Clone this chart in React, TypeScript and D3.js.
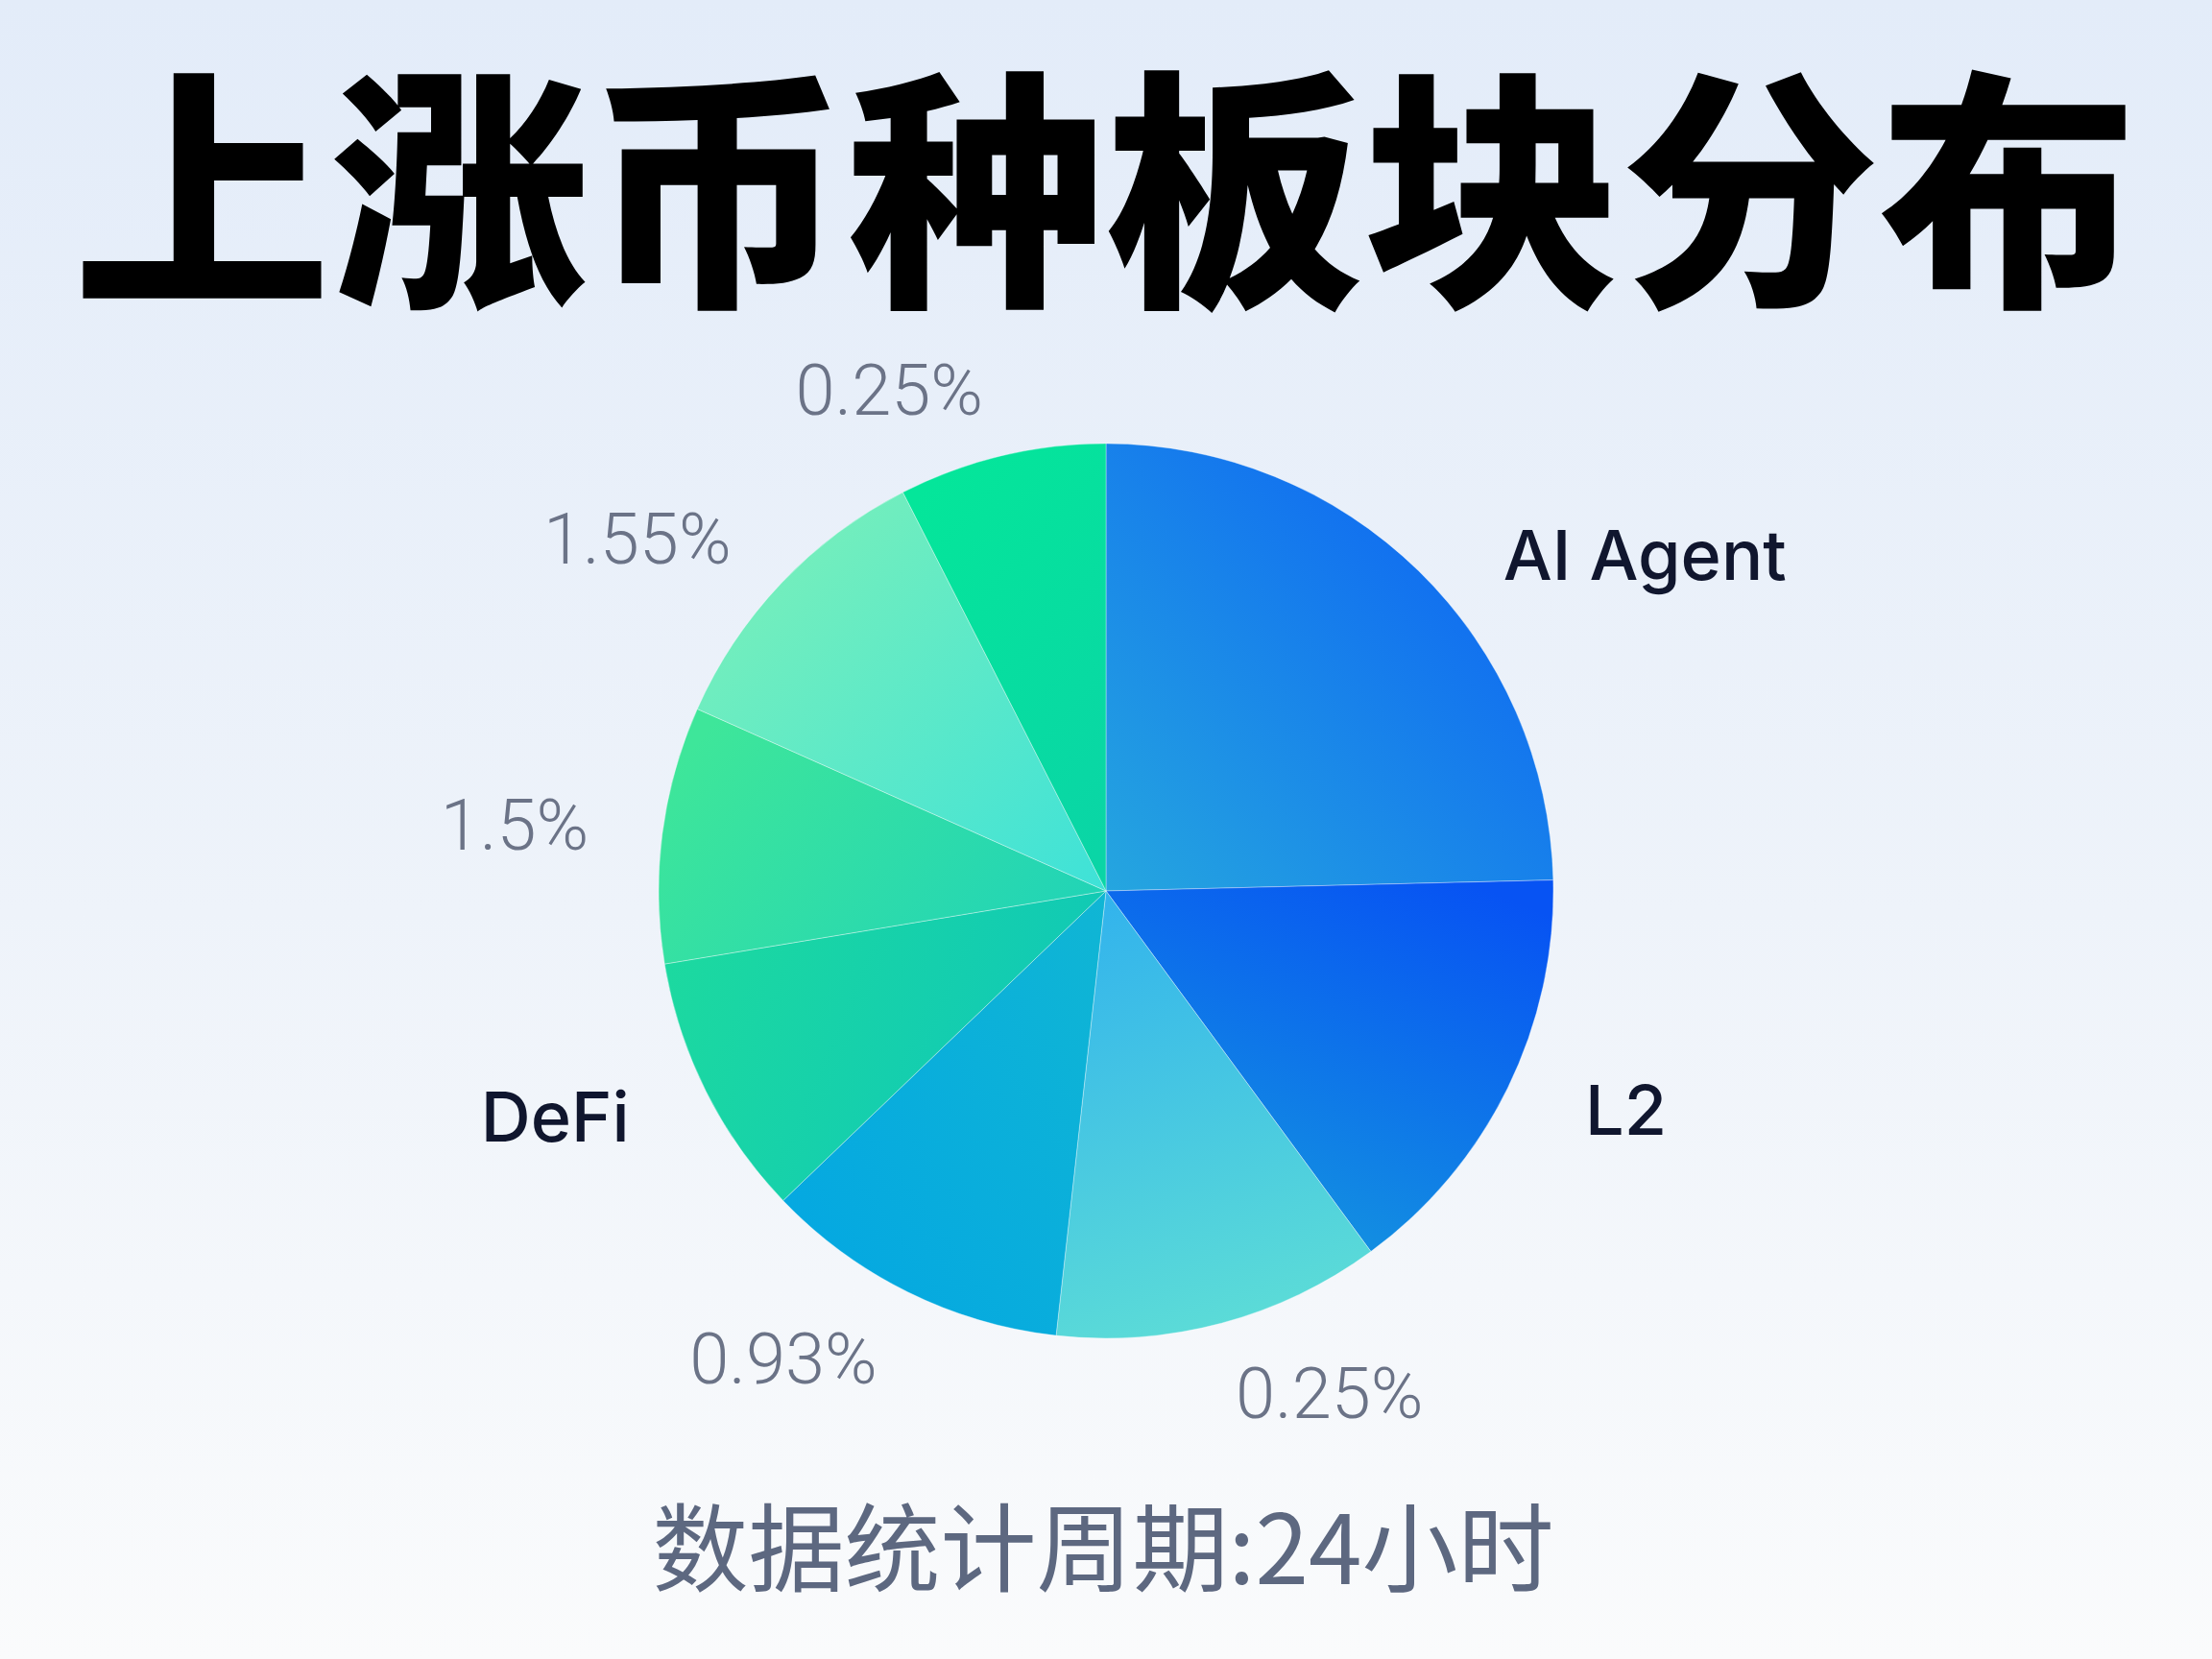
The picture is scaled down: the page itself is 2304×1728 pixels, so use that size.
import React, { useEffect, useRef } from "react"
import * as d3 from "d3"

// slice sizes (degrees of the circle), clockwise from 12 o'clock
const sliceLabels = ["AI Agent", "L2", "0.25%", "0.93%", "DeFi", "1.5%", "1.55%", "0.25%"]
const sliceShares = [88.6, 55.1, 42.7, 39.8, 34.4, 33.4, 39, 27]

const titleText = "上涨币种板块分布"
const footText = "数据统计周期:24小时"

// gradient stops per slice [from, to]
const sliceColors = [
	["#0a5cf6", "#25a6df"],
	["#0753f3", "#1496df"],
	["#33b4ec", "#5cdcd7"],
	["#10b6d4", "#03a6e3"],
	["#1cd9a0", "#0fc7b8"],
	["#3ee69a", "#20d3b8"],
	["#80f1b6", "#3ee2d8"],
	["#04e69a", "#0ad5a6"],
]
// gradient direction per slice (objectBoundingBox x1,y1,x2,y2)
const gradDir = [
	[1, 0, 0, 1],
	[0.8, 0, 0.3, 1],
	[0.3, 0, 0.5, 1],
	[1, 0, 0, 1],
	[0, 0.3, 1, 0.6],
	[0, 0.3, 1, 0.8],
	[0, 0, 1, 1],
	[0.3, 0, 0.8, 1],
]
// label placement tweaks: angle shift in degrees, radius factor
const labelShift = [13.7, -3.4, -9, 8.3, 4.4, -1, -6.6, -9.9]
const labelRadius = [1.42, 1.26, 1.23, 1.27, 1.33, 1.33, 1.31, 1.22]

const W = 2304
const H = 1728

const App = () => {
	const svgRef = useRef<SVGSVGElement>(null)

	useEffect(() => {
		const svg = d3.select(svgRef.current)
		svg.selectAll("*").remove()

		const cx = 1152
		const cy = 928
		const r = 466

		const defs = svg.append("defs")
		const bg = defs
			.append("linearGradient")
			.attr("id", "bg")
			.attr("x1", 0)
			.attr("y1", 0)
			.attr("x2", 0)
			.attr("y2", 1)
		bg.append("stop").attr("offset", "0%").attr("stop-color", "#e3ecf9")
		bg.append("stop").attr("offset", "55%").attr("stop-color", "#eef3fa")
		bg.append("stop").attr("offset", "100%").attr("stop-color", "#fafbfc")

		sliceColors.forEach((c, i) => {
			const g = defs
				.append("linearGradient")
				.attr("id", `slice${i}`)
				.attr("x1", gradDir[i][0])
				.attr("y1", gradDir[i][1])
				.attr("x2", gradDir[i][2])
				.attr("y2", gradDir[i][3])
			g.append("stop").attr("offset", "0%").attr("stop-color", c[0])
			g.append("stop").attr("offset", "100%").attr("stop-color", c[1])
		})

		svg.append("rect").attr("width", W).attr("height", H).attr("fill", "url(#bg)")

		// title
		svg.append("text")
			.attr("x", 1151)
			.attr("y", 184)
			.attr("text-anchor", "middle")
			.attr("dominant-baseline", "central")
			.attr("font-family", "'Noto Sans CJK SC', sans-serif")
			.attr("font-weight", 900)
			.attr("font-size", 264)
			.attr("textLength", 2150)
			.attr("lengthAdjust", "spacingAndGlyphs")
			.attr("fill", "#000")
			.text(titleText)

		const pie = d3
			.pie<number>()
			.sort(null)
			.value((d) => d)
		const arcs = pie(sliceShares)
		const arc = d3.arc<d3.PieArcDatum<number>>().innerRadius(0).outerRadius(r)

		const g = svg.append("g").attr("transform", `translate(${cx},${cy})`)

		g.selectAll("path")
			.data(arcs)
			.join("path")
			.attr("d", arc)
			.attr("fill", (d, i) => `url(#slice${i})`)
			.attr("stroke", "rgba(255,255,255,0.35)")
			.attr("stroke-width", 1)

		const isPct = (i: number) => sliceLabels[i].endsWith("%")

		g.selectAll("text")
			.data(arcs)
			.join("text")
			.attr("transform", (d, i) => {
				const a = (d.startAngle + d.endAngle) / 2 + (labelShift[i] * Math.PI) / 180
				const [x, y] = d3.pointRadial(a, r * labelRadius[i])
				return `translate(${x},${y})`
			})
			.attr("text-anchor", "middle")
			.attr("dominant-baseline", "central")
			.attr("font-family", (d, i) => (isPct(i) ? "Roboto, sans-serif" : "Inter, sans-serif"))
			.attr("font-weight", (d, i) => (isPct(i) ? 300 : 500))
			.attr("font-size", (d, i) => (isPct(i) ? 74 : 72))
			.attr("fill", (d, i) => (isPct(i) ? "#6b7387" : "#10162e"))
			.text((d, i) => sliceLabels[i])

		// footer
		svg.append("text")
			.attr("x", 1149)
			.attr("y", 1606)
			.attr("text-anchor", "middle")
			.attr("dominant-baseline", "central")
			.attr("font-family", "'Noto Sans CJK SC', sans-serif")
			.attr("font-weight", 400)
			.attr("font-size", 100)
			.attr("fill", "#5d6880")
			.text(footText)
	}, [])

	return (
		<svg
			ref={svgRef}
			width={W}
			height={H}
			style={{ position: "absolute", left: 0, top: 0, display: "block" }}
		/>
	)
}

export default App
